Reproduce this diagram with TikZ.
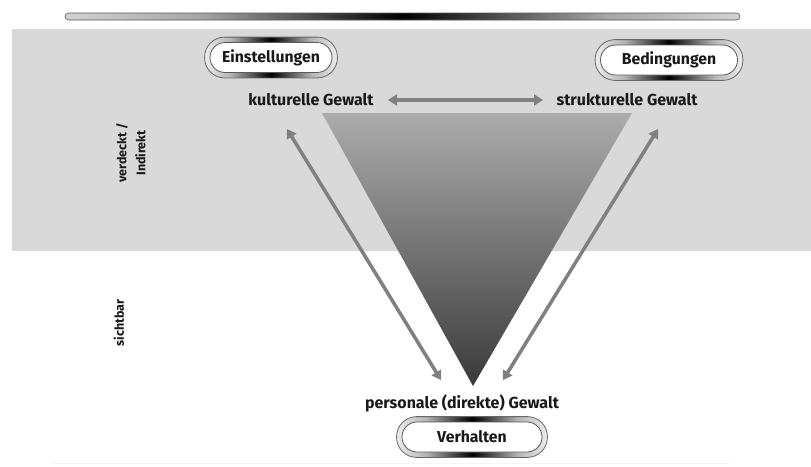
\documentclass[tikz,border=0pt]{standalone}
\usepackage{fontspec}
\setmainfont{Fira Sans}
\usetikzlibrary{arrows.meta,calc}
\pgfdeclarelayer{bandlayer}
\pgfdeclarelayer{midlayer}
\pgfsetlayers{bandlayer,midlayer,main}
\pgfdeclarehorizontalshading{pillshade}{100bp}{color(0bp)=(white); color(22bp)=(white); color(35bp)=(gray!60); color(50bp)=(black); color(65bp)=(gray!60); color(78bp)=(white); color(100bp)=(white)}
\pgfdeclarehorizontalshading{barshade}{100bp}{color(0bp)=(white); color(15bp)=(white); color(35bp)=(gray!70); color(50bp)=(black); color(65bp)=(gray!70); color(85bp)=(white); color(100bp)=(white)}
\definecolor{bandgray}{RGB}{217,217,217}
\definecolor{arrowgray}{RGB}{128,128,128}
\definecolor{textdark}{RGB}{25,25,25}
\definecolor{tritop}{RGB}{172,172,172}
\definecolor{tribot}{RGB}{58,58,58}
\tikzset{
  pillin/.style={draw=gray!70!black, line width=0.8pt, fill=white, rounded corners=15pt,
    minimum height=30pt, inner sep=0pt, text=textdark,
    font=\bfseries\fontsize{15.8}{17}\selectfont},
  pillout/.style={draw=gray!80!black, line width=0.8pt, shading=pillshade, rounded corners=20pt},
  gewalt/.style={text=textdark, inner sep=0pt, font=\bfseries\fontsize{16}{17}\selectfont},
  sidelabel/.style={text=textdark, inner sep=0pt, rotate=90, align=center,
    font=\bfseries\fontsize{12.5}{19}\selectfont},
  garrow/.style={draw=arrowgray, line width=3.5pt,
    {Triangle[length=9pt,width=11pt]}-{Triangle[length=9pt,width=11pt]}}
}
\newcommand{\pillframe}[1]{%
  \begin{pgfonlayer}{midlayer}
  \path[pillout] ($(#1.south west)+(-5,5)$) rectangle ($(#1.north east)+(5,-5)$);
  \end{pgfonlayer}}
\begin{document}
\begin{tikzpicture}[x=1pt,y=-1pt]
\useasboundingbox (0,0) rectangle (811,466);
% band
\begin{pgfonlayer}{bandlayer}
\fill[white] (0,0) rectangle (811,466);
\fill[bandgray] (12,29) rectangle (811,251);
\draw[gray!8, line width=1pt] (52,463) -- (730,463);
\end{pgfonlayer}
% top bar
\path[draw=gray!70!black, line width=0.6pt, shading=barshade, rounded corners=3.5pt] (65,13) rectangle (740,20);
% triangle
\coordinate (tl) at (322,113);
\coordinate (tr) at (632,113);
\coordinate (ap) at (473,386);
\shade[top color=tritop, bottom color=tribot] (tl) -- (tr) -- (ap) -- cycle;
% pills
\node[pillin, minimum width=122pt] (ein) at (271,57.5) {Einstellungen};
\pillframe{ein}
\node[pillin, minimum width=137pt] (bed) at (669,60) {Bedingungen};
\pillframe{bed}
\node[pillin, minimum width=140pt] (ver) at (472,437) {Verhalten};
\pillframe{ver}
% labels
\node[gewalt] (kul) at (311,100) {kulturelle Gewalt};
\node[gewalt] (str) at (627,100) {strukturelle Gewalt};
\node[gewalt] (per) at (462,403) {personale (direkte) Gewalt};
\node[sidelabel] (verd) at (131,153) {verdeckt /\\Indirekt};
\node[sidelabel] (sicht) at (119,323) {sichtbar};
% arrows
\coordinate (ha) at (388,100);
\coordinate (hb) at (543,100);
\coordinate (lt) at (287,129);
\coordinate (lb) at (441,380);
\coordinate (rt) at (658,129);
\coordinate (rb) at (503,380);
\draw[garrow] (ha) -- (hb);
\draw[garrow] (lt) -- (lb);
\draw[garrow] (rt) -- (rb);
\end{tikzpicture}
\end{document}
